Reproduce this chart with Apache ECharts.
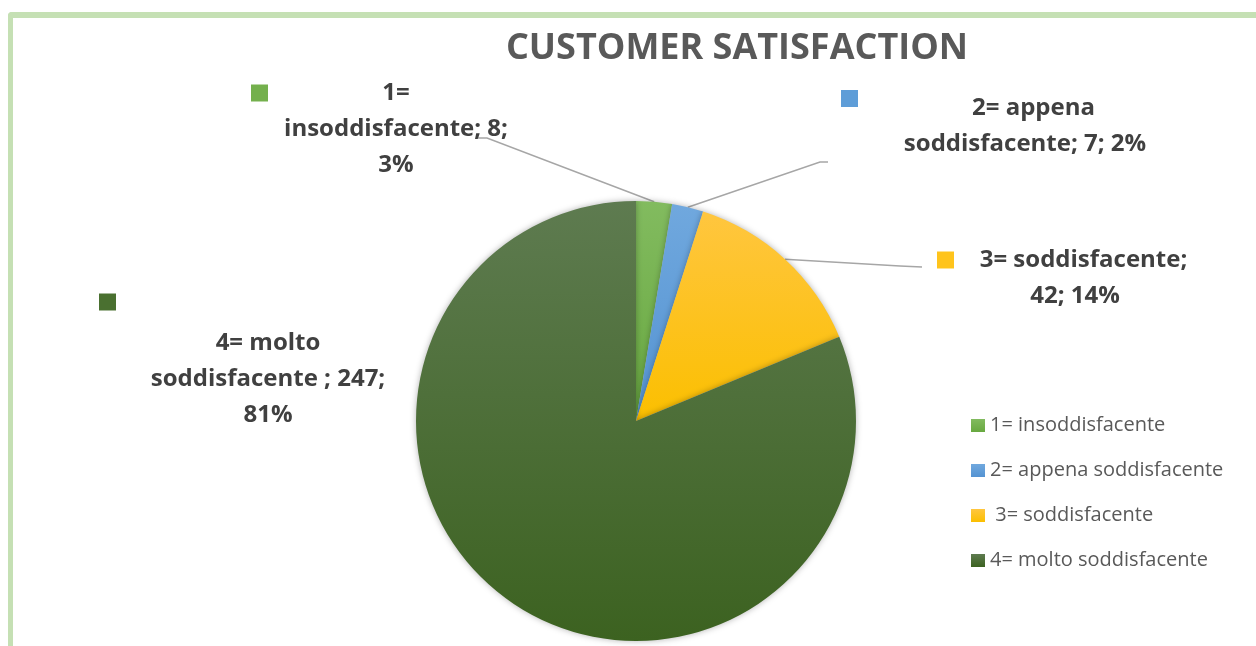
<!DOCTYPE html>
<html>
<head>
<meta charset="utf-8">
<script src="https://cdn.jsdelivr.net/npm/echarts@6/dist/echarts.min.js"></script>
<style>
  html, body { margin: 0; padding: 0; background: #ffffff; }
  #wrap { position: relative; width: 1256px; height: 646px; overflow: hidden; }
  #frame { position: absolute; left: 8px; top: 12px; width: 1300px; height: 700px;
           border-left: 5px solid #c5e0b4; border-top: 6px solid #c5e0b4; border-top-left-radius: 4px; }
  #chart { position: absolute; left: 0; top: 0; width: 1256px; height: 646px; }
</style>
</head>
<body>
<div id="wrap"><div id="frame"></div><div id="chart"></div></div>
<script>
// ---- data ----
const titleText = 'CUSTOMER SATISFACTION';
const categories = ['1= insoddisfacente', '2= appena soddisfacente', ' 3= soddisfacente', '4= molto soddisfacente '];
const values = [8, 7, 42, 247];

// ---- styles ----
const sliceColors = [
  ['#82bb5f', '#68a840'],
  ['#70a8de', '#5493d2'],
  ['#ffc63f', '#fbbf00'],
  ['#5e7b50', '#3c6220']
];
const keyColors = ['#74b04d', '#5e9dd8', '#ffc41c', '#4a7030'];
// words per line for each data label
const lineWords = [[1, 2, 1], [2, 3], [2, 2], [2, 3, 1]];
// label boxes: center x, top y, width
const boxes = [
  { x: 396, y: 75, w: 290 },
  { x: 1025, y: 90, w: 368 },
  { x: 1075, y: 242, w: 276 },
  { x: 268, y: 279, w: 338 }
];
const guideEnds = [
  [[487, 138], [477, 138]],
  [[820, 162], [828, 162]],
  [[900, 266], [922, 267]],
  null
];
const FONT = 'Open Sans';

function grad(c) {
  return { type: 'linear', x: 0, y: 0, x2: 0, y2: 1,
    colorStops: [{ offset: 0, color: c[0] }, { offset: 1, color: c[1] }] };
}

const pieData = categories.map((name, i) => ({
  name: name,
  value: values[i],
  itemStyle: { color: grad(sliceColors[i]) },
  labelLine: { show: i !== 3 }
}));

function labelText(p) {
  const i = p.dataIndex;
  const full = p.name.replace(/^\s+/, '') + '; ' + p.value + '; ' + p.percent + '%';
  const words = full.split(' ');
  const lines = [];
  let k = 0;
  lineWords[i].forEach(n => { lines.push(words.slice(k, k + n).join(' ')); k += n; });
  if (i === 3) return '{k3|}\n' + lines.join('\n');
  if (i === 0) return '{k0|}' + lines[0] + '{e|}\n' + lines.slice(1).join('\n');
  return '{k' + i + '|}' + lines[0] + '\n' + lines.slice(1).join('\n');
}

const keyBase = { width: 17, height: 17, align: 'left' };
const chart = echarts.init(document.getElementById('chart'), null, { renderer: 'canvas' });
chart.setOption({
  backgroundColor: 'transparent',
  animation: false,
  title: {
    text: titleText,
    left: 732, top: 26,
    textAlign: 'center',
    textStyle: { fontFamily: FONT, fontWeight: 'bold', fontSize: 36, color: '#595959' }
  },
  legend: {
    orient: 'vertical',
    left: 966, top: 410,
    itemWidth: 14, itemHeight: 13,
    itemGap: 24,
    icon: 'rect',
    textStyle: { fontFamily: FONT, fontSize: 20, color: '#595959', lineHeight: 21, padding: [0, 0, 0, 0] },
    data: categories
  },
  series: [{
    type: 'pie',
    center: [636, 421],
    radius: 220,
    startAngle: 90,
    clockwise: true,
    percentPrecision: 0,
    avoidLabelOverlap: false,
    itemStyle: { shadowBlur: 6, shadowColor: 'rgba(0,0,0,0.3)' },
    emphasis: { disabled: true },
    label: {
      show: true,
      position: 'outside',
      formatter: labelText,
      fontFamily: FONT, fontWeight: 'bold', fontSize: 24, color: '#404040',
      lineHeight: 36,
      align: 'center',
      rich: {
        k0: Object.assign({}, keyBase, { backgroundColor: keyColors[0], verticalAlign: 'middle' }),
        k1: Object.assign({}, keyBase, { backgroundColor: keyColors[1], verticalAlign: 'top' }),
        k2: Object.assign({}, keyBase, { backgroundColor: keyColors[2], verticalAlign: 'middle' }),
        k3: Object.assign({}, keyBase, { backgroundColor: keyColors[3], verticalAlign: 'middle', lineHeight: 46 }),
        e: { width: 17, height: 17, align: 'right' }
      }
    },
    labelLine: { show: true, lineStyle: { color: '#a6a6a6', width: 1.5 } },
    labelLayout: function (p) {
      const b = boxes[p.dataIndex];
      const out = { x: b.x, y: b.y, align: 'center', verticalAlign: 'top', width: b.w };
      const g = guideEnds[p.dataIndex];
      if (g && p.labelLinePoints) {
        out.labelLinePoints = [p.labelLinePoints[0], g[0], g[1]];
      }
      return out;
    },
    data: pieData
  }]
});
</script>
</body>
</html>
